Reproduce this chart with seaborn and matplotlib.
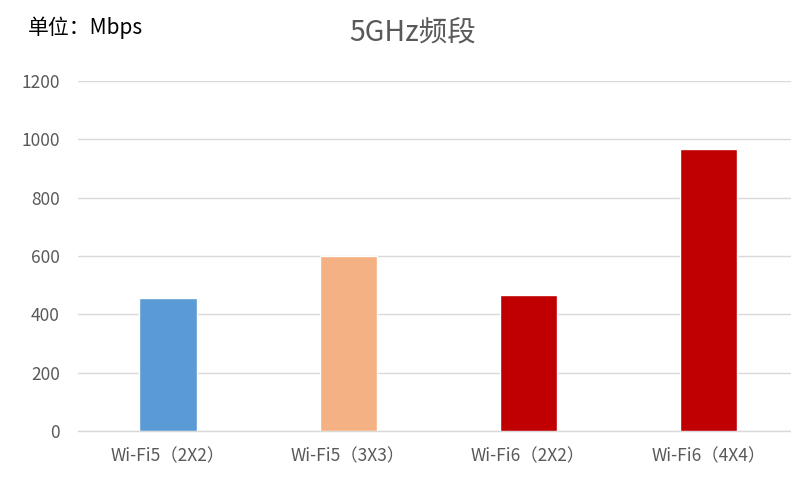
import matplotlib
matplotlib.use("Agg")
import matplotlib.pyplot as plt
import seaborn as sns
import pandas as pd

categories = ["Wi-Fi5（2X2）", "Wi-Fi5（3X3）", "Wi-Fi6（2X2）", "Wi-Fi6（4X4）"]
speeds = [455, 600, 467, 967]
colors = ["#5B9BD5", "#F4B183", "#C00000", "#C00000"]
y_ticks = [0, 200, 400, 600, 800, 1000, 1200]

sns.set_theme(style="white")
plt.rcParams["font.family"] = ["Noto Sans CJK SC", "DejaVu Sans"]

df = pd.DataFrame({"category": categories, "speed": speeds})

fig = plt.figure(figsize=(7.91, 4.82), dpi=100)
ax = fig.add_axes([0.0986, 0.1058, 0.9014, 0.7262])

sns.barplot(data=df, x="category", y="speed", hue="category",
            palette=colors, legend=False, width=0.317, saturation=1,
            ax=ax, zorder=3)

ax.set_ylim(0, 1200)
ax.set_xlim(-0.5, 3.46)
ax.set_yticks(y_ticks)
ax.set_yticklabels([str(t) for t in y_ticks])
ax.set_xlabel("")
ax.set_ylabel("")

ax.grid(axis="y", color="#D9D9D9", linewidth=1, zorder=0)
for side in ["top", "right", "left"]:
    ax.spines[side].set_visible(False)
ax.spines["bottom"].set_color("#D9D9D9")
ax.spines["bottom"].set_linewidth(1)
ax.tick_params(axis="both", length=0, colors="#595959", labelsize=12.5)
ax.tick_params(axis="y", pad=13)
ax.tick_params(axis="x", pad=12)

fig.text(0.522, 0.932, "5GHz频段", ha="center", va="center",
         fontsize=20.5, color="#595959")
fig.text(0.035, 0.943, "单位：Mbps", ha="left", va="center",
         fontsize=15, color="#000000")

fig.savefig("out.png", dpi=100)
